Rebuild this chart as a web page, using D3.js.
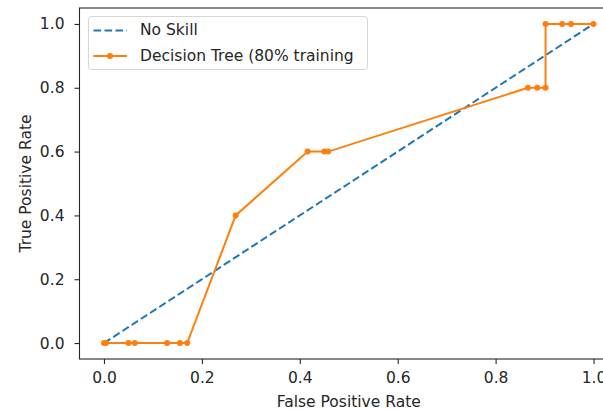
<!DOCTYPE html>
<html>
<head>
<meta charset="utf-8">
<script src="https://cdn.jsdelivr.net/npm/d3@7/dist/d3.min.js"></script>
<style>
  html, body { margin: 0; padding: 0; background: #fff; }
  svg { display: block; }
  text { font-family: "DejaVu Sans", sans-serif; fill: #262626; }
</style>
</head>
<body>
<svg id="chart" width="603" height="410"></svg>
<script>
// ROC curve data
const noSkillFpr = [0, 1];
const noSkillTpr = [0, 1];

const treeFpr = [0.0, 0.004, 0.05, 0.063, 0.129, 0.155, 0.17, 0.269, 0.416, 0.45, 0.458,
                 0.866, 0.885, 0.902, 0.902, 0.936, 0.954, 1.0];
const treeTpr = [0.0, 0.0, 0.0, 0.0, 0.0, 0.0, 0.0, 0.4, 0.6, 0.6, 0.6,
                 0.8, 0.8, 0.8, 1.0, 1.0, 1.0, 1.0];

const tickValues = [0.0, 0.2, 0.4, 0.6, 0.8, 1.0];
const seriesNames = ["No Skill", "Decision Tree (80% training"];

const blue = "#1f77b4";
const orange = "#ff7f0e";
const fs = 15.5;

const svg = d3.select("#chart");
const m = { left: 79.5, right: 618, top: 8, bottom: 359 };

const x = d3.scaleLinear().domain([-0.05, 1.05]).range([m.left, m.right]);
const y = d3.scaleLinear().domain([-0.05, 1.05]).range([m.bottom, m.top]);

const plot = svg.append("g");

const line = d3.line().x(d => x(d[0])).y(d => y(d[1]));

// No-skill diagonal
plot.append("path")
  .datum(d3.zip(noSkillFpr, noSkillTpr))
  .attr("d", line)
  .attr("fill", "none")
  .attr("stroke", blue)
  .attr("stroke-width", 2)
  .attr("stroke-dasharray", "7.6,3.4");

// Decision tree curve
const treePts = d3.zip(treeFpr, treeTpr);
plot.append("path")
  .datum(treePts)
  .attr("d", line)
  .attr("fill", "none")
  .attr("stroke", orange)
  .attr("stroke-width", 2);

plot.selectAll("circle.pt")
  .data(treePts)
  .join("circle")
  .attr("class", "pt")
  .attr("cx", d => x(d[0]))
  .attr("cy", d => y(d[1]))
  .attr("r", 3)
  .attr("fill", orange);

// Axes
const xAxis = d3.axisBottom(x).tickValues(tickValues).tickFormat(d3.format(".1f")).tickSize(5).tickPadding(8);
const yAxis = d3.axisLeft(y).tickValues(tickValues).tickFormat(d3.format(".1f")).tickSize(5).tickPadding(10);

const gx = svg.append("g").attr("transform", `translate(0,${m.bottom})`).call(xAxis);
const gy = svg.append("g").attr("transform", `translate(${m.left},0)`).call(yAxis);
[gx, gy].forEach(g => {
  g.select(".domain").remove();
  g.selectAll(".tick line").attr("stroke", "#262626").attr("stroke-width", 1.1);
  g.selectAll(".tick text").attr("font-size", fs).attr("fill", "#262626")
    .style("font-family", "DejaVu Sans, sans-serif");
});

// Spines
svg.append("rect")
  .attr("x", m.left).attr("y", m.top)
  .attr("width", m.right - m.left).attr("height", m.bottom - m.top)
  .attr("fill", "none").attr("stroke", "#262626").attr("stroke-width", 1.1);

// Axis labels
svg.append("text")
  .attr("x", (m.left + m.right) / 2).attr("y", 406.5)
  .attr("text-anchor", "middle").attr("font-size", fs)
  .text("False Positive Rate");

svg.append("text")
  .attr("transform", `translate(30.5,${(m.top + m.bottom) / 2}) rotate(-90)`)
  .attr("text-anchor", "middle").attr("font-size", fs)
  .text("True Positive Rate");

// Legend
const lg = svg.append("g");
lg.append("rect")
  .attr("x", 88.5).attr("y", 16.5).attr("width", 279).attr("height", 53).attr("rx", 3)
  .attr("fill", "#fff").attr("fill-opacity", 0.8)
  .attr("stroke", "#d6d6d6").attr("stroke-width", 1);

const rows = [
  { name: seriesNames[0], color: blue, dash: "7.6,3.4", marker: false, cy: 30.5, ty: 29.3 },
  { name: seriesNames[1], color: orange, dash: null, marker: true, cy: 56, ty: 55.5 }
];
rows.forEach(r => {
  lg.append("line")
    .attr("x1", 93.5).attr("x2", 127).attr("y1", r.cy).attr("y2", r.cy)
    .attr("stroke", r.color).attr("stroke-width", 2)
    .attr("stroke-dasharray", r.dash);
  if (r.marker) {
    lg.append("circle").attr("cx", 110).attr("cy", r.cy).attr("r", 3).attr("fill", r.color);
  }
  lg.append("text")
    .attr("x", 140).attr("y", r.ty).attr("dy", "0.36em")
    .attr("font-size", fs)
    .text(r.name);
});
</script>
</body>
</html>
